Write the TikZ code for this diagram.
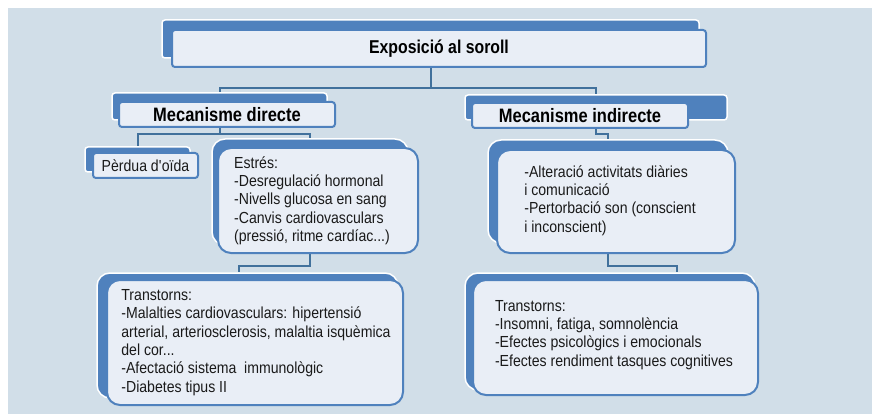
\documentclass[tikz,border=0pt]{standalone}
\usepackage{fontspec}
\setmainfont[FakeStretch=0.88]{Liberation Sans}
\newfontfamily\headfont[FakeStretch=0.85]{Liberation Sans}
\usetikzlibrary{positioning}
\definecolor{sky}{HTML}{D1DEE8}
\definecolor{blue}{HTML}{4F81BD}
\definecolor{wire}{HTML}{41719C}
\definecolor{paper}{HTML}{E9EEF6}
\definecolor{ink}{HTML}{1A1A1A}
\pgfdeclarelayer{lines}
\pgfsetlayers{lines,main}

\begin{document}
\begin{tikzpicture}[x=1pt,y=-1pt,text=ink,back/.style={rounded corners=3pt,fill=blue,draw=white,line width=1.5pt,inner sep=0pt},front/.style={rounded corners=3pt,fill=paper,draw=blue,line width=2pt,inner sep=0pt},head/.style={font=\headfont\bfseries\fontsize{19.4}{22}\selectfont,text=black},body/.style={font=\fontsize{16}{18.3}\selectfont,align=left},soft/.style={rounded corners=13pt},conn/.style={draw=wire,line width=2pt}]
 \useasboundingbox (0,0) rectangle (872,414);
 % top level
 \node[back,minimum width=537,minimum height=38] (titleback) at (430.5,39) {};
 \node[front,head,font=\headfont\bfseries\fontsize{18.6}{22}\selectfont,minimum width=534,minimum height=37] (title) at (439,48.5) {Exposició al soroll};
 % the two mechanisms
 \node[back,minimum width=215,minimum height=27] (dirback) at (219.5,106.5) {};
 \node[front,head,minimum width=216,minimum height=25] (dir) at (227,114.5) {Mecanisme directe};
 \node[back,minimum width=262,minimum height=25] (indback) at (596,107.5) {};
 \node[front,head,minimum width=216,minimum height=25] (ind) at (580,115.5) {Mecanisme indirecte};
 % direct branch
 \node[back,minimum width=105,minimum height=25] (perdback) at (137.5,159.5) {};
 \node[front,body,minimum width=105,minimum height=25] (perd) at (145.5,165.5) {Pèrdua d\textquotesingle oïda};
 \node[back,soft,minimum width=196,minimum height=106] (estback) at (310,192) {};
 \node[front,soft,body,minimum width=200,minimum height=105] (est) at (318,200.5) {};
 \node[body] (esttext) at (312,200.5) {Estrés:\\-Desregulació hormonal\\-Nivells glucosa en sang\\-Canvis cardiovasculars\\(pressió, ritme cardíac...)};
 \node[back,soft,minimum width=301,minimum height=125] (trlback) at (247.5,335.5) {};
 \node[front,soft,body,minimum width=296,minimum height=125] (trl) at (255,342.5) {};
 \node[body] (trltext) at (256,342.5) {Transtorns:\\-Malalties cardiovasculars: hipertensió\\arterial, arteriosclerosis, malaltia isquèmica\\del cor...\\-Afectació sistema\ \ immunològic\\-Diabetes tipus II};
 % indirect branch
 \node[back,soft,minimum width=240,minimum height=103] (altback) at (608,191.5) {};
 \node[front,soft,body,minimum width=238,minimum height=103] (alt) at (616,201.5) {};
 \node[body] (alttext) at (610,200.5) {-Alteració activitats diàries\\i comunicació\\-Pertorbació son (conscient\\i inconscient)};
 \node[back,soft,minimum width=290,minimum height=117] (trrback) at (610,331.5) {};
 \node[front,soft,body,minimum width=285,minimum height=115] (trr) at (615.5,337.5) {};
 \node[body] (trrtext) at (614,335) {Transtorns:\\-Insomni, fatiga, somnolència\\-Efectes psicològics i emocionals\\-Efectes rendiment tasques cognitives};
 % connectors behind the boxes
 \begin{pgfonlayer}{lines}
  \fill[white] (0,0) rectangle (872,414);
  \fill[sky] (8,8) rectangle (872,414);
  \draw[conn] (titleback.south) -- ++(0,29) -| (dirback.north);
  \draw[conn] (titleback.south) -- ++(0,29) -| (indback.north);
  \draw[conn] (dirback.south) -- ++(0,13) -| (perdback.north);
  \draw[conn] (dirback.south) -- ++(0,13) -| (estback.north);
  \draw[conn] (indback.south) -- ++(0,13) -| (altback.north);
  \draw[conn] (estback.south) -- ++(0,20) -| ([xshift=-8.5pt]trlback.north);
  \draw[conn] (altback.south) -- ++(0,22) -| ([xshift=67pt]trrback.north);
 \end{pgfonlayer}
\end{tikzpicture}
\end{document}
